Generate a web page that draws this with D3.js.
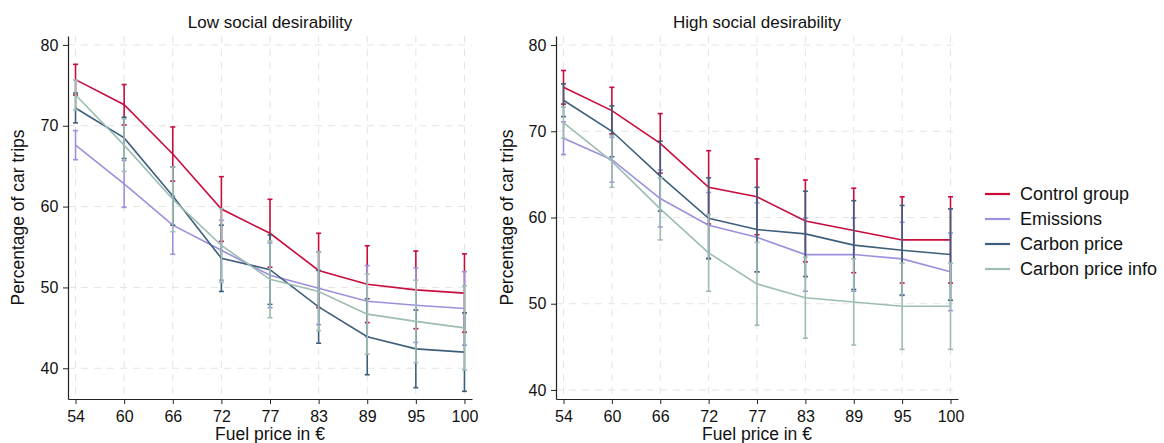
<!DOCTYPE html>
<html>
<head>
<meta charset="utf-8">
<script src="https://cdn.jsdelivr.net/npm/d3@7"></script>
<style>
  body { margin: 0; background: #fff; }
  text { font-family: "Liberation Sans", Arial, sans-serif; fill: #111; }
</style>
</head>
<body>
<div id="chart"></div>
<script>
// fuel prices (categories on x)
var prices = ["54", "60", "66", "72", "77", "83", "89", "95", "100"];
var seriesNames = ["Control group", "Emissions", "Carbon price", "Carbon price info"];
var colors = ["#c90c3b", "#9c90dc", "#3e5f7b", "#9dbdb3"];
var yTicks = [40, 50, 60, 70, 80];

// Low social desirability: means and CI half widths
var lowControl = [75.7, 72.6, 66.5, 59.7, 56.7, 52.1, 50.4, 49.7, 49.3];
var lowControlCI = [1.9, 2.5, 3.35, 4.0, 4.2, 4.6, 4.75, 4.8, 4.85];
var lowEmissions = [67.6, 62.8, 57.7, 54.6, 51.5, 49.9, 48.3, 47.8, 47.4];
var lowEmissionsCI = [1.8, 2.9, 3.6, 3.7, 4.0, 4.5, 4.4, 4.6, 4.55];
var lowCarbon = [72.2, 68.5, 61.3, 53.6, 52.2, 47.6, 43.9, 42.4, 42.0];
var lowCarbonCI = [1.85, 2.55, 3.6, 4.1, 4.3, 4.5, 4.7, 4.8, 4.85];
var lowInfo = [73.8, 67.6, 60.9, 55.2, 51.0, 49.5, 46.7, 45.8, 45.0];
var lowInfoCI = [1.85, 3.25, 4.0, 4.55, 4.75, 4.85, 4.95, 5.1, 5.2];

// High social desirability
var highControl = [75.1, 72.4, 68.6, 63.5, 62.4, 59.6, 58.5, 57.4, 57.4];
var highControlCI = [1.95, 2.7, 3.45, 4.25, 4.4, 4.75, 4.9, 5.0, 5.0];
var highEmissions = [69.2, 66.7, 62.2, 59.1, 57.7, 55.7, 55.7, 55.2, 53.7];
var highEmissionsCI = [1.9, 2.6, 3.3, 3.8, 4.0, 4.25, 4.25, 4.25, 4.5];
var highCarbon = [73.6, 70.0, 64.8, 59.9, 58.6, 58.1, 56.8, 56.2, 55.7];
var highCarbonCI = [1.9, 2.95, 4.05, 4.7, 4.9, 4.95, 5.15, 5.2, 5.3];
var highInfo = [71.0, 66.5, 61.0, 55.9, 52.3, 50.7, 50.2, 49.7, 49.7];
var highInfoCI = [1.8, 3.0, 3.6, 4.45, 4.8, 4.7, 5.0, 5.0, 5.0];

var svgWidth = 1164;
var svgHeight = 443;

var svg = d3.select("#chart")
  .append("svg")
  .attr("width", svgWidth)
  .attr("height", svgHeight);

var panels = [
  {
    title: "Low social desirability",
    left: 68, right: 472, top: 36, bottom: 399,
    yDomain: [36.2, 81.1],
    means: [lowControl, lowEmissions, lowCarbon, lowInfo],
    cis: [lowControlCI, lowEmissionsCI, lowCarbonCI, lowInfoCI],
    yLabelX: 18
  },
  {
    title: "High social desirability",
    left: 556, right: 958, top: 36, bottom: 399,
    yDomain: [38.95, 81.05],
    means: [highControl, highEmissions, highCarbon, highInfo],
    cis: [highControlCI, highEmissionsCI, highCarbonCI, highInfoCI],
    yLabelX: 507
  }
];

panels.forEach(function(p) {
  var x = d3.scalePoint()
    .domain(prices)
    .range([p.left, p.right])
    .padding(0.155);

  var y = d3.scaleLinear()
    .domain(p.yDomain)
    .range([p.bottom, p.top]);

  var g = svg.append("g");

  // gridlines
  g.selectAll(".hgrid")
    .data(yTicks)
    .enter()
    .append("line")
    .attr("x1", p.left)
    .attr("x2", p.right)
    .attr("y1", d => y(d))
    .attr("y2", d => y(d))
    .attr("stroke", "#e4e4e4")
    .attr("stroke-width", 1)
    .attr("stroke-dasharray", "7,6");

  g.selectAll(".vgrid")
    .data(prices)
    .enter()
    .append("line")
    .attr("x1", d => x(d))
    .attr("x2", d => x(d))
    .attr("y1", p.top)
    .attr("y2", p.bottom)
    .attr("stroke", "#e4e4e4")
    .attr("stroke-width", 1)
    .attr("stroke-dasharray", "7,6");

  // axes
  var bottomAxis = d3.axisBottom(x).tickSize(5).tickSizeOuter(0);
  var leftAxis = d3.axisLeft(y).tickValues(yTicks).tickSize(5).tickSizeOuter(0);

  var xAxis = g.append("g")
    .attr("transform", `translate(0, ${p.bottom})`)
    .call(bottomAxis);
  var yAxis = g.append("g")
    .attr("transform", `translate(${p.left}, 0)`)
    .call(leftAxis);

  [xAxis, yAxis].forEach(function(a) {
    a.select(".domain").attr("stroke", "#222").attr("stroke-width", 1.2);
    a.selectAll(".tick line").attr("stroke", "#222");
    a.selectAll(".tick text")
      .attr("font-family", "Liberation Sans, Arial, sans-serif")
      .attr("font-size", 16)
      .attr("fill", "#111");
  });
  xAxis.selectAll(".tick text").attr("dy", "0.95em");
  yAxis.selectAll(".tick text").attr("dx", "-0.1em");

  // series: lines then error bars, in legend order
  p.means.forEach(function(vals, si) {
    var ci = p.cis[si];
    var pts = prices.map(function(c, i) {
      return { c: c, v: vals[i], lo: vals[i] - ci[i], hi: vals[i] + ci[i] };
    });

    var line = d3.line()
      .x(d => x(d.c))
      .y(d => y(d.v));

    g.append("path")
      .datum(pts)
      .attr("d", line)
      .attr("fill", "none")
      .attr("stroke", colors[si])
      .attr("stroke-width", 1.6);

    var bars = g.append("g");
    bars.selectAll(".bar")
      .data(pts)
      .enter()
      .append("line")
      .attr("x1", d => x(d.c))
      .attr("x2", d => x(d.c))
      .attr("y1", d => y(d.lo))
      .attr("y2", d => y(d.hi))
      .attr("stroke", colors[si])
      .attr("stroke-width", 1.6);

    ["lo", "hi"].forEach(function(k) {
      bars.selectAll(".cap-" + k)
        .data(pts)
        .enter()
        .append("line")
        .attr("x1", d => x(d.c) - 2.5)
        .attr("x2", d => x(d.c) + 2.5)
        .attr("y1", d => y(d[k]))
        .attr("y2", d => y(d[k]))
        .attr("stroke", colors[si])
        .attr("stroke-width", 1.6);
    });
  });

  // titles
  var cx = (p.left + p.right) / 2;
  g.append("text")
    .attr("x", cx)
    .attr("y", 28)
    .attr("text-anchor", "middle")
    .attr("font-size", 17)
    .text(p.title);

  g.append("text")
    .attr("x", cx)
    .attr("y", 440)
    .attr("text-anchor", "middle")
    .attr("font-size", 17.5)
    .text("Fuel price in €");

  g.append("text")
    .attr("transform", `translate(${p.yLabelX + 6}, ${(p.top + p.bottom) / 2}) rotate(-90)`)
    .attr("text-anchor", "middle")
    .attr("font-size", 17.5)
    .text("Percentage of car trips");
});

// legend
var legend = svg.append("g")
  .attr("transform", "translate(985, 194)");

seriesNames.forEach(function(name, i) {
  var row = legend.append("g")
    .attr("transform", `translate(0, ${i * 25})`);
  row.append("line")
    .attr("x1", 0)
    .attr("x2", 25)
    .attr("y1", 0)
    .attr("y2", 0)
    .attr("stroke", colors[i])
    .attr("stroke-width", 2.2);
  row.append("text")
    .attr("x", 35)
    .attr("y", 0)
    .attr("dy", "0.35em")
    .attr("font-size", 18)
    .text(name);
});
</script>
</body>
</html>
